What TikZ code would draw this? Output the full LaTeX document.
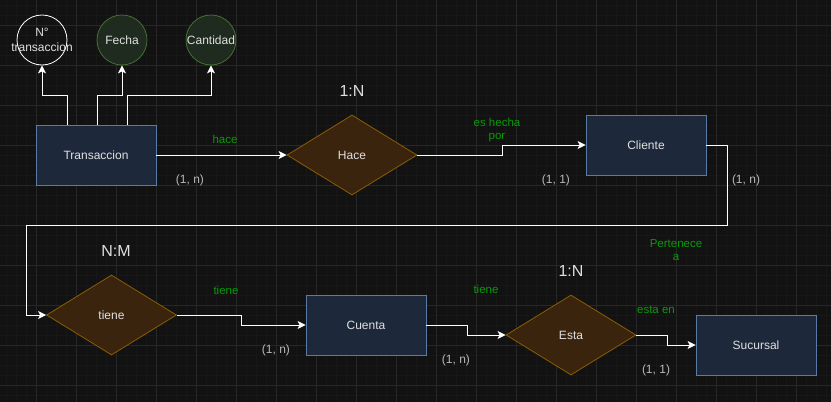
\documentclass[tikz,border=0pt]{standalone}
\usepackage{fontspec}
\setmainfont{Liberation Sans}
\usetikzlibrary{shapes.geometric,arrows.meta}
\definecolor{bg}{HTML}{121212}
\definecolor{gmin}{HTML}{171717}
\definecolor{gmaj}{HTML}{272727}
\definecolor{entfill}{HTML}{1D293B}
\definecolor{entdraw}{HTML}{5A7AA8}
\definecolor{relfill}{HTML}{3A240E}
\definecolor{reldraw}{HTML}{8A5C06}
\definecolor{attfill}{HTML}{1F2B1E}
\definecolor{attdraw}{HTML}{456F33}
\definecolor{lbl}{HTML}{E0E0E0}
\definecolor{card}{HTML}{B8B8B8}
\definecolor{verde}{HTML}{089B08}
\tikzset{
  entity/.style={draw=entdraw, fill=entfill, minimum width=120pt, minimum height=60pt, inner sep=0pt, text=lbl, font=\fontsize{12}{14}\selectfont, line width=0.8pt},
  rel/.style={diamond, aspect=1.625, draw=reldraw, fill=relfill, minimum width=130pt, minimum height=80pt, inner sep=0pt, text=lbl, font=\fontsize{12}{14}\selectfont, line width=0.8pt},
  attr/.style={circle, draw=attdraw, fill=attfill, minimum size=50pt, inner sep=0pt, text=lbl, font=\fontsize{12}{13}\selectfont, line width=0.8pt, align=center},
  attrw/.style={circle, draw=white, minimum size=50pt, inner sep=0pt, line width=0.8pt},
  attrtext/.style={text=lbl, font=\fontsize{12}{15}\selectfont, inner sep=0pt, align=center},
  conn/.style={draw=white, line width=1pt, -{Stealth[width=8pt,length=8pt,inset=2pt]}},
  cardlbl/.style={text=card, font=\fontsize{12}{14}\selectfont, inner sep=0pt},
  verb/.style={text=verde, font=\fontsize{11.5}{13.5}\selectfont, inner sep=0pt, align=center},
  ratio/.style={text=lbl, font=\fontsize{16}{18}\selectfont, inner sep=0pt},
}
\begin{document}
\begin{tikzpicture}[x=1pt,y=-1pt]
\fill[bg] (0,0) rectangle (831,402);
\useasboundingbox (0,0) rectangle (831,402);
\foreach \x in {6,16,...,831} \draw[gmin,line width=0.6pt] (\x,0) -- (\x,402);
\foreach \y in {5,15,...,402} \draw[gmin,line width=0.6pt] (0,\y) -- (831,\y);
\foreach \x in {36,76,...,831} \draw[gmaj,line width=1pt] (\x,0) -- (\x,402);
\foreach \y in {25,65,...,402} \draw[gmaj,line width=1pt] (0,\y) -- (831,\y);

% attributes
\node[attrw] (num) at (42,40) {};
\node[attrtext] (numtext) at (num.center) {N°\\transaccion};
\node[attr] (fecha) at (122,40) {Fecha};
\node[attr] (cant) at (211,40) {Cantidad};

% entities
\node[entity] (trans) at (96,155) {Transaccion};
\node[entity] (cli) at (646,145) {Cliente};
\node[entity] (cue) at (366,325) {Cuenta};
\node[entity] (suc) at (756,345) {Sucursal};

% relations
\node[rel] (hace) at (352,155) {Hace};
\node[rel] (tiene) at (111.5,315) {tiene};
\node[rel] (esta) at (571,335) {Esta};

% connectors
\coordinate (t1) at (67,125);
\coordinate (t2) at (97,125);
\coordinate (t3) at (127,125);
\draw[conn] (t1) -- (67,95) -| (num.south);
\draw[conn] (t2) -- (97,95) -| (fecha.south);
\draw[conn] (t3) -- (127,95) -| (cant.south);

\draw[conn] (trans.east) -- (hace.west);
\draw[conn] (hace.east) -- (502,155) -- (502,145) -- (cli.west);
\draw[conn] (cli.east) -- (727,145) -- (727,225) -- (26,225) -- (26,315) -- (tiene.west);
\draw[conn] (tiene.east) -- (241,315) -- (241,325) -- (cue.west);
\draw[conn] (cue.east) -- (467,325) -- (467,335) -- (esta.west);
\draw[conn] (esta.east) -- (667,335) -- (667,345) -- (suc.west);

% labels
\node[ratio] (r1) at (352,91) {1:N};
\node[ratio] (r2) at (116,251) {N:M};
\node[ratio] (r3) at (571,271) {1:N};

\node[verb] (v1) at (225,139) {hace};
\node[verb] (v2) at (497,130) {es hecha\\por};
\node[verb] (v3) at (676,250) {Pertenece\\a};
\node[verb] (v4) at (226,290) {tiene};
\node[verb] (v5) at (486,289) {tiene};
\node[verb] (v6) at (656,310) {esta en};

\node[cardlbl] (c1) at (190,180) {(1, n)};
\node[cardlbl] (c2) at (556,180) {(1, 1)};
\node[cardlbl] (c3) at (746,180) {(1, n)};
\node[cardlbl] (c4) at (276,350) {(1, n)};
\node[cardlbl] (c5) at (456,360) {(1, n)};
\node[cardlbl] (c6) at (656,370) {(1, 1)};
\end{tikzpicture}
\end{document}
